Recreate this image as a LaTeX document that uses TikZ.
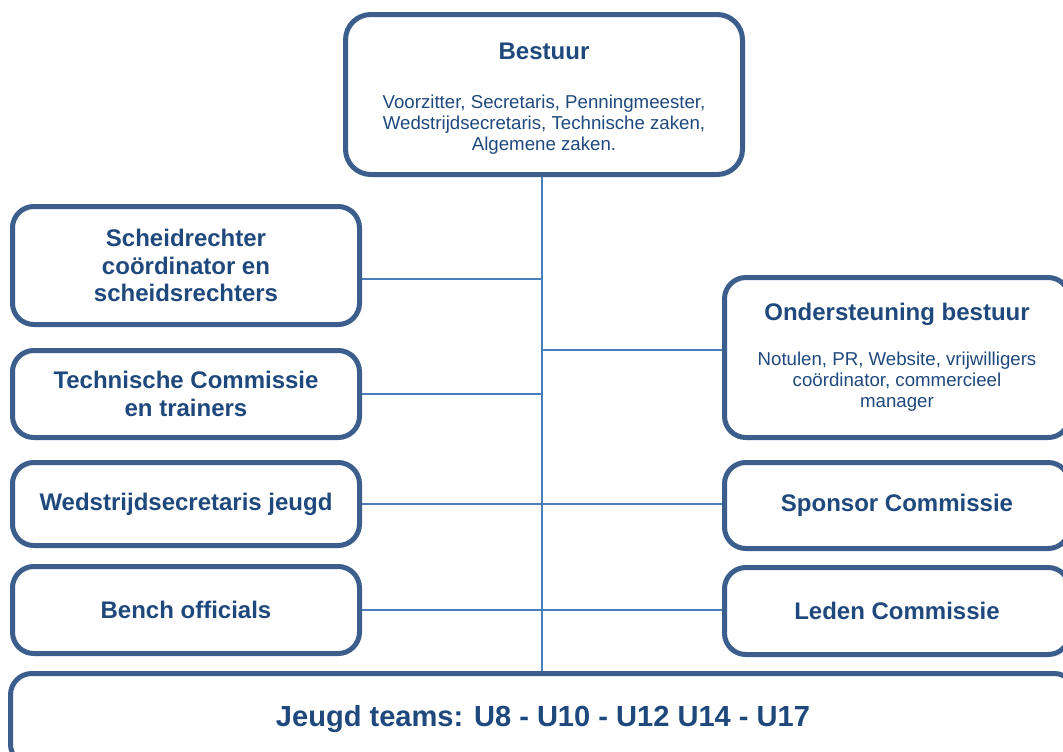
\documentclass[tikz,border=0pt]{standalone}
\usepackage{fontspec}
\setmainfont{Liberation Sans}
\definecolor{boxline}{HTML}{3B5E8C}
\definecolor{txt}{HTML}{1F497D}
\definecolor{conn}{HTML}{4A7EBB}
\tikzset{
  orgbox/.style={draw=boxline, line width=3.75pt, rounded corners=16pt, fill=white,
    inner sep=0pt, align=center, text=txt},
  ttl/.style={font=\fontsize{18}{20.7}\selectfont\bfseries},
  conline/.style={draw=conn, line width=1.9pt}
}
\begin{document}
\begin{tikzpicture}[x=0.75pt,y=-0.75pt]
\useasboundingbox (0,0) rectangle (1063,751);
\clip (0,0) rectangle (1063,751);

\node[orgbox, rounded corners=19pt, minimum width=297.75pt, minimum height=120pt,
  font=\fontsize{14}{15.8}\selectfont] (bestuur) at (544,94.5)
  {\rule{0pt}{18.5pt}{\fontsize{18}{20.7}\selectfont\bfseries Bestuur}\\[21pt]
   Voorzitter, Secretaris, Penningmeester,\\
   Wedstrijdsecretaris, Technische zaken,\\
   Algemene zaken.};

\node[orgbox, ttl, minimum width=260.25pt, minimum height=88.5pt] (scheid) at (186,265.5)
  {Scheidrechter\\coördinator en\\scheidsrechters};
\node[orgbox, ttl, minimum width=260.25pt, minimum height=65.25pt] (tech) at (186,394)
  {Technische Commissie\\en trainers};
\node[orgbox, ttl, minimum width=260.25pt, minimum height=62.25pt] (wed) at (186,504)
  {Wedstrijdsecretaris jeugd};
\node[orgbox, ttl, minimum width=260.25pt, minimum height=65.25pt] (bench) at (186,610)
  {Bench officials};

\node[orgbox, minimum width=258.75pt, minimum height=120pt,
  font=\fontsize{14}{15.8}\selectfont] (onder) at (897,357.5)
  {{\fontsize{18}{20.7}\selectfont\bfseries Ondersteuning bestuur}\\[18pt]
   Notulen, PR, Website, vrijwilligers\\
   coördinator, commercieel\\
   manager};
\node[orgbox, ttl, minimum width=258.75pt, minimum height=64.5pt] (spon) at (897,505.5)
  {Sponsor Commissie};
\node[orgbox, ttl, minimum width=258.75pt, minimum height=65.25pt] (leden) at (897,611)
  {Leden Commissie};

\node[orgbox, minimum width=798.75pt, minimum height=69pt,
  font=\fontsize{21.8}{24}\selectfont\bfseries] (jeugd) at (543,719.5)
  {Jeugd teams: U8 - U10 - U12 U14 - U17};

\coordinate (top) at ([xshift=-1.5pt]bestuur.south);
\draw[conline] (top) -- (top |- jeugd.north);
\draw[conline] ([yshift=-10pt]scheid.east) -- ([yshift=-10pt]scheid.east -| top);
\draw[conline] (tech.east) -- (tech.east -| top);
\draw[conline] (wed.east) -- (wed.east -| spon.west);
\draw[conline] (bench.east) -- (bench.east -| leden.west);
\draw[conline] ([yshift=5.6pt]onder.west) -- ([yshift=5.6pt]onder.west -| top);
\end{tikzpicture}
\end{document}
